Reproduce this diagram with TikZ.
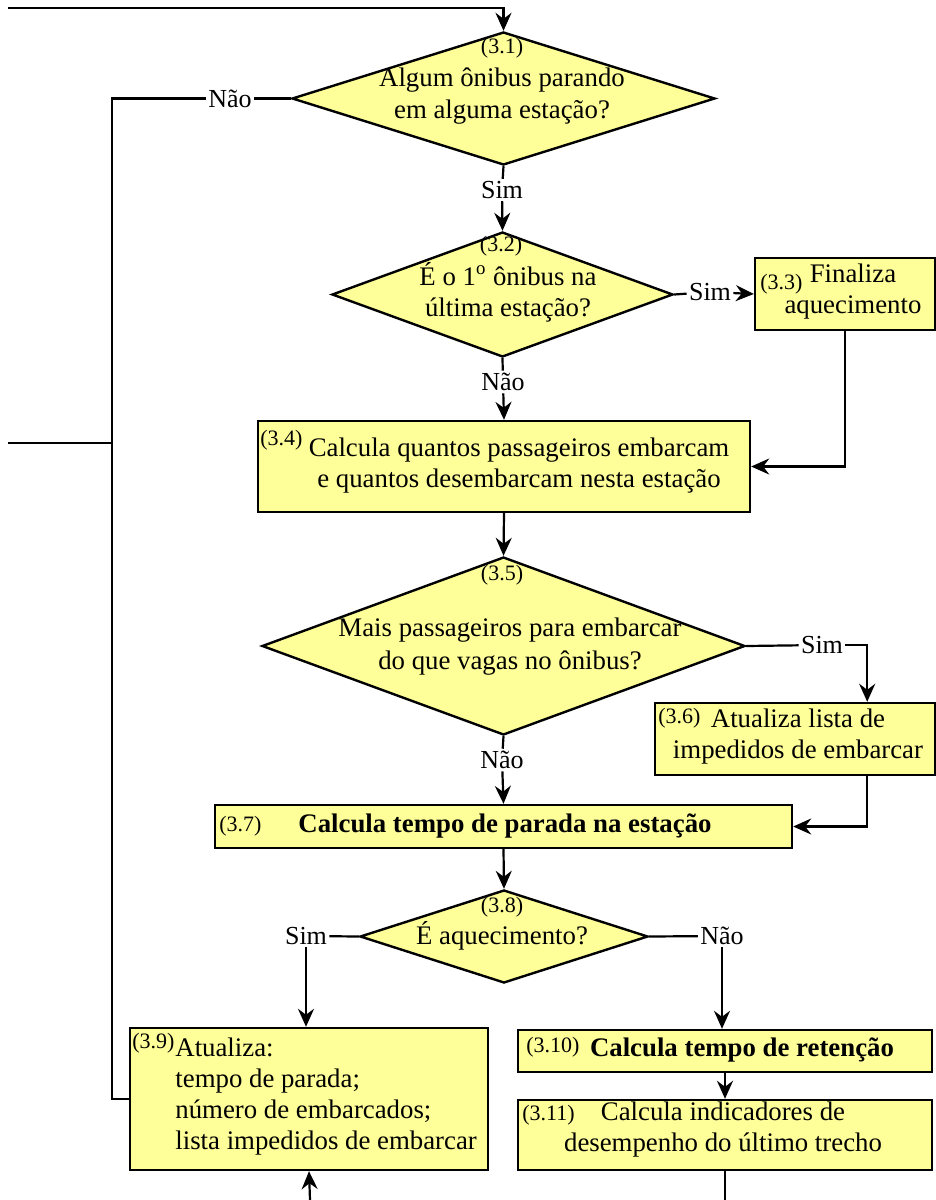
\documentclass[tikz,border=0pt]{standalone}
\usepackage{fontspec}
\setmainfont{Liberation Serif}
\usetikzlibrary{shapes.geometric, arrows, arrows.meta}
\definecolor{caixa}{RGB}{255,255,153}
\tikzstyle{process} = [rectangle, draw=black, fill=caixa, line width=1.2pt, inner sep=0pt]
\tikzstyle{decision} = [diamond, draw=black, fill=caixa, line width=1.2pt, inner sep=0pt]
\tikzstyle{texto} = [align=center, font=\fontsize{13.4}{15.5}\selectfont, inner sep=0pt]
\tikzstyle{num} = [font=\fontsize{11}{13}\selectfont, inner sep=0pt]
\tikzstyle{rotulo} = [font=\fontsize{13}{15}\selectfont, inner sep=1pt, fill=white]
\tikzstyle{arrow} = [line width=1.1pt,-{Stealth[length=9pt, width=8pt, inset=3pt]}]
\tikzstyle{line} = [line width=1.1pt]

\begin{document}
\begin{tikzpicture}[x=0.5pt, y=-0.5pt]
\useasboundingbox (0,0) rectangle (936,1200);

% Caixas e decisoes
\node (d31) [decision, minimum width=211.5pt, minimum height=66.5pt] at (503.5,98.5) {};
\node (d32) [decision, minimum width=170.5pt, minimum height=62.5pt] at (502.5,294.5) {};
\node (b33) [process, minimum width=90pt, minimum height=36pt] at (845,294) {};
\node (b34) [process, minimum width=246pt, minimum height=45.5pt] at (504,466.5) {};
\node (d35) [decision, minimum width=241.5pt, minimum height=89pt] at (503.5,646) {};
\node (b36) [process, minimum width=140pt, minimum height=36pt] at (795,739) {};
\node (b37) [process, minimum width=288.5pt, minimum height=21.5pt] at (503.5,826.5) {};
\node (d38) [decision, minimum width=144pt, minimum height=46.5pt] at (504,936.5) {};
\node (b39) [process, minimum width=179pt, minimum height=71pt] at (309,1099) {};
\node (b310) [process, minimum width=207pt, minimum height=21pt] at (725,1051) {};
\node (b311) [process, minimum width=207pt, minimum height=35pt] at (725,1135) {};

% Textos
\node (n31) [num] at (502,48) {(3.1)};
\node (t31) [texto, font=\fontsize{13.4}{16}\selectfont] at (502,96) {Algum ônibus parando\\em alguma estação?};
\node (n32) [num] at (501,246) {(3.2)};
\node (t32) [texto] at (508,292) {É o 1\textsuperscript{o} ônibus na\\última estação?};
\node (n33) [num, anchor=west] at (760,284) {(3.3)};
\node (t33) [texto] at (853,292) {Finaliza\\aquecimento};
\node (n34) [num, anchor=west] at (260,440) {(3.4)};
\node (t34) [texto] at (519,466) {Calcula quantos passageiros embarcam\\e quantos desembarcam nesta estação};
\node (n35) [num] at (502,575) {(3.5)};
\node (t35) [texto, font=\fontsize{13.4}{16.5}\selectfont] at (510,647) {Mais passageiros para embarcar\\do que vagas no ônibus?};
\node (n36) [num, anchor=west] at (658,718) {(3.6)};
\node (t36) [texto] at (798,737) {Atualiza lista de\\impedidos de embarcar};
\node (n37) [num, anchor=west] at (219,826) {(3.7)};
\node (t37) [texto, font=\fontsize{13.4}{15.5}\selectfont\bfseries] at (505,826) {Calcula tempo de parada na estação};
\node (n38) [num] at (502,907) {(3.8)};
\node (t38) [texto] at (502,936) {É aquecimento?};
\node (n39) [num, anchor=west] at (132,1043) {(3.9)};
\node (t39) [texto, align=left, anchor=west] at (175,1097) {Atualiza:\\tempo de parada;\\número de embarcados;\\lista impedidos de embarcar};
\node (n310) [num, anchor=west] at (526,1047) {(3.10)};
\node (t310) [texto, font=\fontsize{13.4}{15.5}\selectfont\bfseries] at (742,1050) {Calcula tempo de retenção};
\node (n311) [num, anchor=west] at (522,1115) {(3.11)};
\node (t311) [texto] at (723,1130) {Calcula indicadores de\\desempenho do último trecho};

% Rotulos
\node (nao1) [rotulo] at (230,98.5) {Não};
\node (sim1) [rotulo] at (502,190) {Sim};
\node (sim2) [rotulo] at (710,292) {Sim};
\node (nao2) [rotulo] at (503,382) {Não};
\node (sim3) [rotulo] at (822,645) {Sim};
\node (nao3) [rotulo] at (502,760) {Não};
\node (sim4) [rotulo] at (306,936) {Sim};
\node (nao4) [rotulo] at (722,936) {Não};

\coordinate (topo) at (8,8);
\coordinate (entrada) at (8,443);
\coordinate (canto1) at (112,98.5);
\coordinate (base1) at (725,1200);
\coordinate (base2) at (310,1200);

% Arrows
\draw [arrow] (topo) -| (d31.north);
\draw [line] (d31.west) -- (nao1);
\draw [line] (nao1.west) -- (canto1) |- (b39.west);
\draw [line] (entrada) -- (entrada -| canto1);
\draw [line] (d31.south) -- (sim1);
\draw [arrow] (sim1) -- (d32.north);
\draw [line] (d32.east) -- (sim2);
\draw [arrow] (sim2) -- (b33.west);
\draw [line] (d32.south) -- (nao2);
\draw [arrow] (nao2) -- (b34.north);
\draw [arrow] (b33.south) |- (b34.east);
\draw [arrow] (b34.south) -- (d35.north);
\draw [line] (d35.east) -- (sim3);
\draw [arrow] (sim3.east) -| ([xshift=-34.5pt]b36.north east);
\draw [arrow] ([xshift=-34.5pt]b36.south east) |- (b37.east);
\draw [line] (d35.south) -- (nao3);
\draw [arrow] (nao3) -- (b37.north);
\draw [arrow] (b37.south) -- (d38.north);
\draw [line] (d38.west) -- (sim4);
\draw [arrow] (sim4.south) -- (sim4.south |- b39.north);
\draw [line] (d38.east) -- (nao4);
\draw [arrow] (nao4.south) -- (nao4.south |- b310.north);
\draw [arrow] (b310.south) -- (b311.north);
\draw [line] (b311.south) -- (base1);
\draw [arrow] (base2) -- (b39.south);

\end{tikzpicture}
\end{document}
